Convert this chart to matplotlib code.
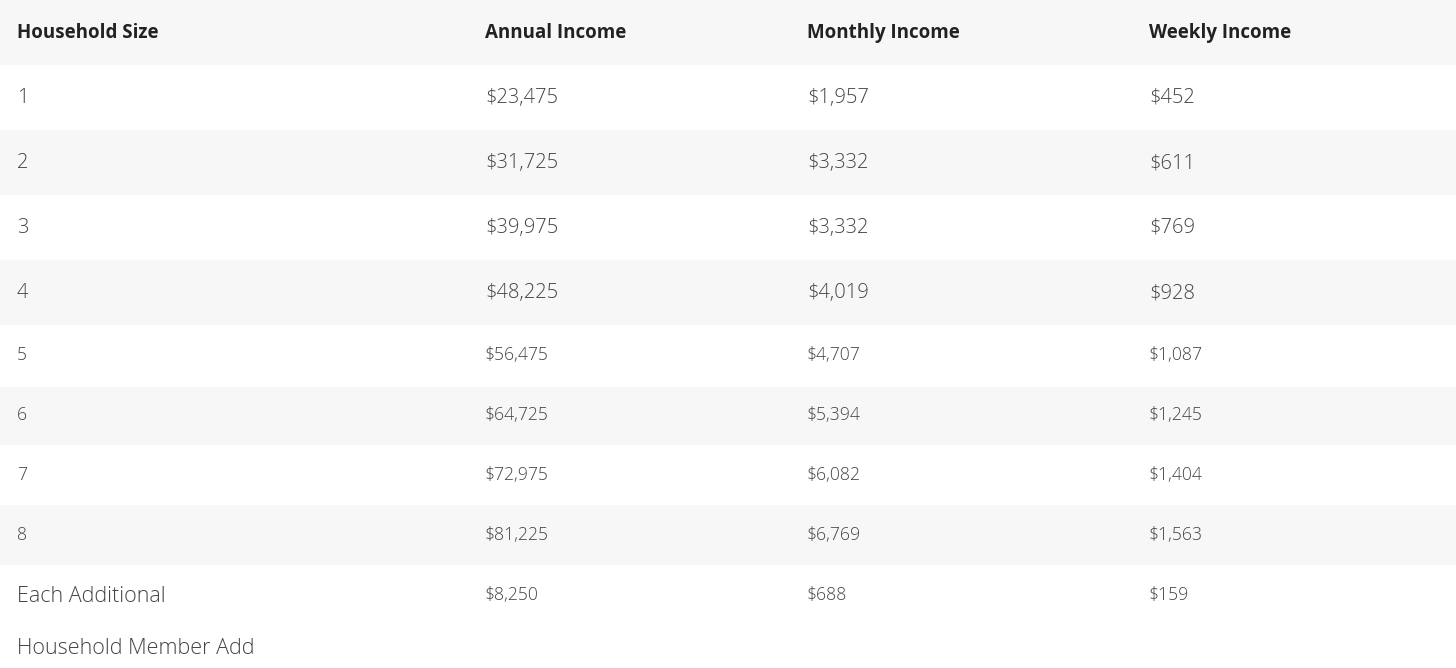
import matplotlib
matplotlib.use("Agg")
import matplotlib.pyplot as plt
from matplotlib.patches import Rectangle

headers = ["Household Size", "Annual Income", "Monthly Income", "Weekly Income"]
sizes = ["1", "2", "3", "4", "5", "6", "7", "8", "Each Additional"]
annual = ["$23,475", "$31,725", "$39,975", "$48,225", "$56,475", "$64,725", "$72,975", "$81,225", "$8,250"]
monthly = ["$1,957", "$3,332", "$3,332", "$4,019", "$4,707", "$5,394", "$6,082", "$6,769", "$688"]
weekly = ["$452", "$611", "$769", "$928", "$1,087", "$1,245", "$1,404", "$1,563", "$159"]
extra_line = "Household Member Add"

W, H = 1456, 668
fig = plt.figure(figsize=(W/100, H/100), dpi=100)
ax = fig.add_axes([0, 0, 1, 1])
ax.set_xlim(0, W); ax.set_ylim(H, 0); ax.axis("off")

band_edges = [0, 65, 130, 195, 260, 325, 387, 445, 505, 565, H]
for i in range(len(band_edges) - 1):
    c = "#f7f7f7" if i % 2 == 0 else "white"
    ax.add_patch(Rectangle((0, band_edges[i]), W, band_edges[i+1]-band_edges[i], color=c, lw=0))

xs = [17, 485, 807, 1149]
fam = "Open Sans"
col = "#444444"
for x, h in zip(xs, headers):
    ax.text(x, 33, h, fontsize=13.5, fontweight="bold", family=fam, color="#222222", va="center")

ys = [98, 163, 228, 293, 355, 415, 475, 535, 597]
for r, y in enumerate(ys):
    fs = 14.5 if r < 4 else 12.7
    ax.text(xs[0], y, sizes[r], fontsize=15.5 if r == 8 else fs, family=fam, color=col, va="center", fontweight="light")
    yy = y - 2 if r == 8 else y
    for x, arr in zip(xs[1:], (annual, monthly, weekly)):
        ax.text(x, yy, arr[r], fontsize=fs, family=fam, color=col, va="center", fontweight="light")
ax.text(xs[0], 648, extra_line, fontsize=15.5, family=fam, color=col, va="center", fontweight="light")

fig.savefig("out.png", dpi=100)
